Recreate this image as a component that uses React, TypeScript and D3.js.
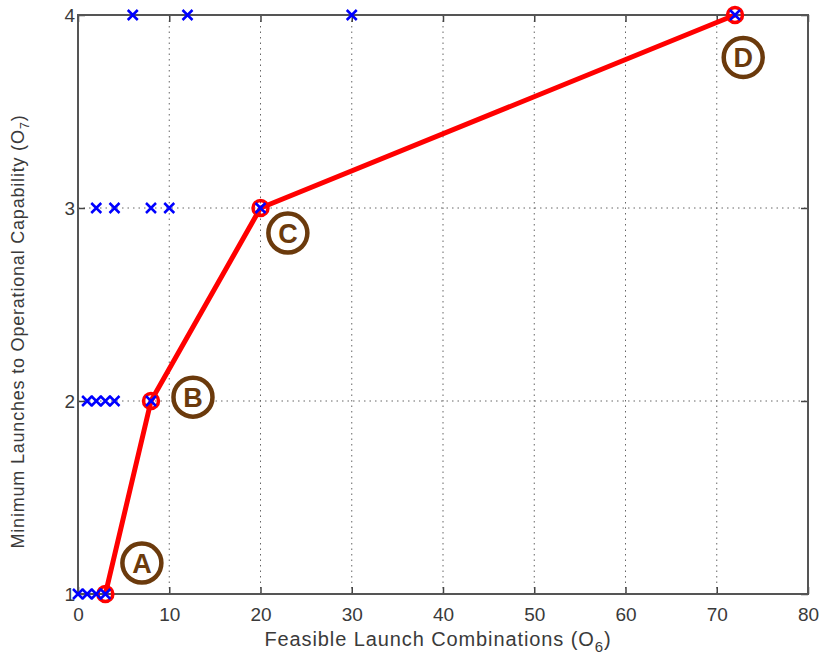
import React, { useEffect, useRef } from 'react';
import * as d3 from 'd3';

// dominated designs (blue x markers)
const designX = [0, 1, 2, 3, 1, 2, 3, 4, 8, 2, 4, 8, 10, 20, 6, 12, 30, 72];
const designY = [1, 1, 1, 1, 2, 2, 2, 2, 2, 3, 3, 3, 3, 3, 4, 4, 4, 4];

// pareto front (red line)
const paretoX = [3, 8, 20, 72];
const paretoY = [1, 2, 3, 4];

// circled letters
const tagNames = ['A', 'B', 'C', 'D'];
const tagX = [7.0, 12.6, 23.0, 72.9];
const tagY = [1.16, 2.02, 2.87, 3.78];

const xTicks = [0, 10, 20, 30, 40, 50, 60, 70, 80];
const yTicks = [1, 2, 3, 4];

const W = 821;
const H = 660;

export default function App() {
  const svgRef = useRef<SVGSVGElement>(null);

  useEffect(() => {
    if (!svgRef.current) return;
    const margin = { top: 15, right: 13, bottom: 66, left: 78 };
    const width = W - margin.left - margin.right;
    const height = H - margin.top - margin.bottom;

    const root = d3.select(svgRef.current);
    root.selectAll('*').remove();

    const svg = root.append('g').attr('transform', `translate(${margin.left},${margin.top})`);

    const xScale = d3.scaleLinear().domain([0, 80]).range([0, width]);
    const yScale = d3.scaleLinear().domain([1, 4]).range([height, 0]);

    const textColor = '#3a3a3a';
    const fontFamily = 'Liberation Sans, Arial, sans-serif';

    // Grid
    svg.append('g')
      .selectAll('line')
      .data(xTicks.slice(1, -1))
      .enter()
      .append('line')
      .attr('x1', (d) => xScale(d))
      .attr('x2', (d) => xScale(d))
      .attr('y1', 0)
      .attr('y2', height)
      .attr('stroke', '#666')
      .attr('stroke-width', 1)
      .attr('stroke-dasharray', '1.5 4');

    svg.append('g')
      .selectAll('line')
      .data(yTicks.slice(1, -1))
      .enter()
      .append('line')
      .attr('x1', 0)
      .attr('x2', width)
      .attr('y1', (d) => yScale(d))
      .attr('y2', (d) => yScale(d))
      .attr('stroke', '#666')
      .attr('stroke-width', 1)
      .attr('stroke-dasharray', '1.5 4');

    // Axes (inward ticks, MATLAB-style box)
    const styleAxis = (g: d3.Selection<SVGGElement, unknown, null, undefined>) => {
      g.select('.domain').remove();
      g.selectAll('.tick line').attr('stroke', '#444').attr('stroke-width', 1.5);
      g.selectAll('.tick text')
        .attr('fill', textColor)
        .attr('font-family', fontFamily)
        .attr('font-size', '19px');
    };

    svg.append('g')
      .attr('transform', `translate(0,${height})`)
      .call(d3.axisBottom(xScale).tickValues(xTicks).tickSize(-7).tickPadding(14).tickFormat(d3.format('d')))
      .call(styleAxis);

    svg.append('g')
      .call(d3.axisTop(xScale).tickValues(xTicks).tickSize(-7).tickFormat(() => ''))
      .call(styleAxis);

    svg.append('g')
      .call(d3.axisLeft(yScale).tickValues(yTicks).tickSize(-7).tickPadding(3).tickFormat(d3.format('d')))
      .call(styleAxis);

    svg.append('g')
      .attr('transform', `translate(${width},0)`)
      .call(d3.axisRight(yScale).tickValues(yTicks).tickSize(-7).tickFormat(() => ''))
      .call(styleAxis);

    svg.append('rect')
      .attr('x', 0)
      .attr('y', 0)
      .attr('width', width)
      .attr('height', height)
      .attr('fill', 'none')
      .attr('stroke', '#555')
      .attr('stroke-width', 2);

    // Pareto line
    const line = d3.line<number>()
      .x((d) => xScale(d))
      .y((_, i) => yScale(paretoY[i]));

    svg.append('path')
      .datum(paretoX)
      .attr('fill', 'none')
      .attr('stroke', '#ff0000')
      .attr('stroke-width', 5)
      .attr('stroke-linejoin', 'round')
      .attr('d', line);

    svg.selectAll('.pareto')
      .data(paretoX)
      .enter()
      .append('circle')
      .attr('cx', (d) => xScale(d))
      .attr('cy', (_, i) => yScale(paretoY[i]))
      .attr('r', 7.5)
      .attr('fill', 'none')
      .attr('stroke', '#ff0000')
      .attr('stroke-width', 3.5);

    // Design points
    svg.selectAll('.design')
      .data(designX)
      .enter()
      .append('path')
      .attr('transform', (d, i) => `translate(${xScale(d)},${yScale(designY[i])})`)
      .attr('d', 'M-5,-5L5,5M-5,5L5,-5')
      .attr('fill', 'none')
      .attr('stroke', '#0000ff')
      .attr('stroke-width', 2.5);

    // Circled letters
    const tags = svg.selectAll('.tag')
      .data(tagNames)
      .enter()
      .append('g')
      .attr('transform', (_, i) => `translate(${xScale(tagX[i])},${yScale(tagY[i])})`);

    tags.append('circle')
      .attr('r', 19.5)
      .attr('fill', 'white')
      .attr('stroke', '#6b3a0c')
      .attr('stroke-width', 4.5);

    tags.append('text')
      .text((d) => d)
      .attr('text-anchor', 'middle')
      .attr('dy', '0.37em')
      .attr('fill', '#6b3a0c')
      .attr('font-family', fontFamily)
      .attr('font-weight', 'bold')
      .attr('font-size', '27px');

    // Axis labels
    const xLabel = svg.append('text')
      .attr('x', width / 2 - 5)
      .attr('y', height + 52)
      .attr('text-anchor', 'middle')
      .attr('fill', textColor)
      .attr('font-family', fontFamily)
      .attr('font-size', '20px')
      .attr('letter-spacing', '0.9px');
    xLabel.append('tspan').text('Feasible Launch Combinations (O');
    xLabel.append('tspan').attr('dy', 6).attr('font-size', '15px').text('6');
    xLabel.append('tspan').attr('dy', -6).text(')');

    const yLabel = svg.append('text')
      .attr('transform', `translate(${-54},${height / 2 + 27}) rotate(-90)`)
      .attr('text-anchor', 'middle')
      .attr('fill', textColor)
      .attr('font-family', fontFamily)
      .attr('font-size', '18px')
      .attr('letter-spacing', '0.8px');
    yLabel.append('tspan').text('Minimum Launches to Operational Capability (O');
    yLabel.append('tspan').attr('dy', 5).attr('font-size', '13px').text('7');
    yLabel.append('tspan').attr('dy', -5).text(')');
  }, []);

  return (
    <div style={{ position: 'absolute', left: 0, top: 0, width: W, height: H, background: 'white' }}>
      <svg ref={svgRef} width={W} height={H} style={{ display: 'block' }} />
    </div>
  );
}
